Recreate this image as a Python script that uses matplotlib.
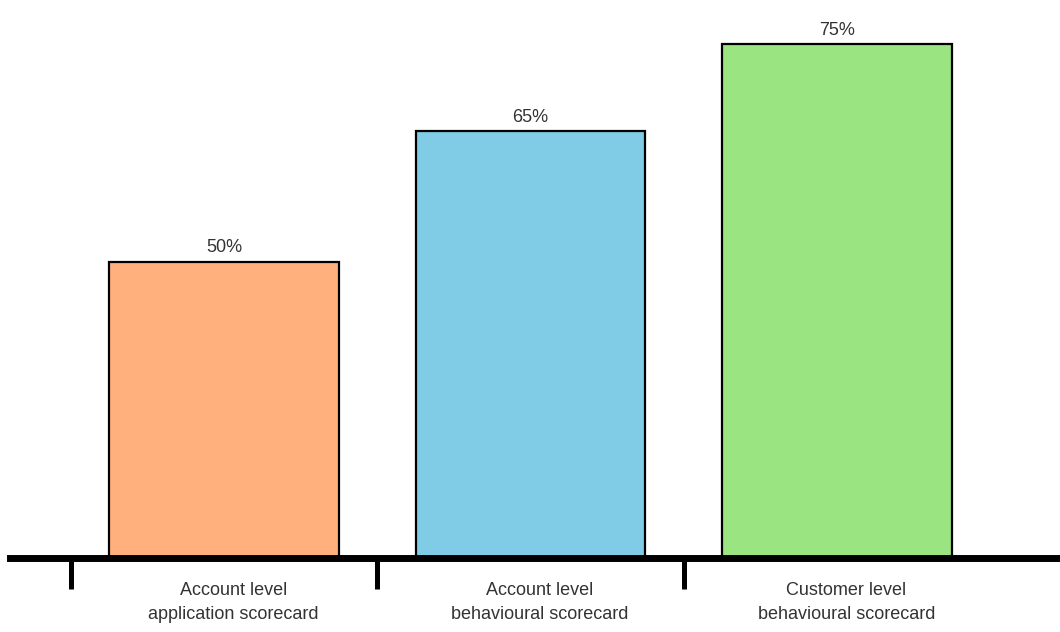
import matplotlib.pyplot as plt

plt.rcParams['font.family'] = ['Liberation Sans', 'DejaVu Sans']

categories = ['Account level\napplication scorecard',
              'Account level\nbehavioural scorecard',
              'Customer level\nbehavioural scorecard']
values = [50, 65, 75]
colors = ['#FFB07C', '#80CCE6', '#9AE582']

fig = plt.figure(figsize=(10.6, 6.32), dpi=100)
ax = fig.add_axes([10 / 1060, 74 / 632, 1048 / 1060, 558 / 632])

x = range(len(values))
bars = ax.bar(x, values, width=0.75, color=colors, edgecolor='black', linewidth=1.6, zorder=2)
for b, v in zip(bars, values):
    ax.annotate(f'{v}%', (b.get_x() + b.get_width() / 2, v), xytext=(0, 4),
                textcoords='offset points', ha='center', va='bottom',
                fontsize=13, color='#333333')

ax.set_xlim(-0.698, 2.721)
ax.set_ylim(16, 80.1)

for s in ['top', 'right', 'left']:
    ax.spines[s].set_visible(False)
ax.spines['bottom'].set_linewidth(5)
ax.spines['bottom'].set_zorder(3)
ax.set_yticks([])

# separators between categories, labels centred under bars
ax.set_xticks([-0.5, 0.5, 1.5])
ax.set_xticklabels([])
ax.tick_params(axis='x', which='major', length=22, width=3.6, direction='out')
ax.set_xticks([i + 0.03 for i in x], minor=True)
ax.set_xticklabels(categories, minor=True, fontsize=13, color='#333333', linespacing=1.55)
ax.tick_params(axis='x', which='minor', length=0, pad=17)

fig.savefig('out.png', dpi=100)
